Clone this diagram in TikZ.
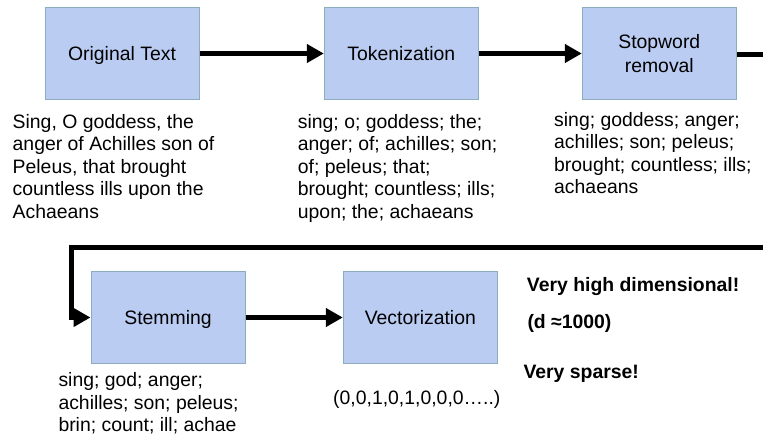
\documentclass[tikz,border=0pt]{standalone}
\usepackage{fontspec}
\setmainfont{Liberation Sans}
\usetikzlibrary{arrows.meta}
\definecolor{boxfill}{RGB}{187,204,242}
\definecolor{boxline}{RGB}{140,172,192}
\begin{document}
\begin{tikzpicture}[x=1pt,y=-1pt,
  stage/.style={draw=boxline, fill=boxfill, line width=1pt, minimum width=154pt,
    minimum height=92.5pt, inner sep=0pt, align=center,
    font=\fontsize{19.4}{23.3}\selectfont},
  oneline/.style={text height=14.1pt, text depth=0pt},
  desc/.style={anchor=north west, inner sep=0pt, align=left,
    font=\fontsize{19.4}{22.5}\selectfont},
  note/.style={anchor=base west, inner sep=0pt, font=\fontsize{19.4}{22.5}\selectfont\bfseries},
  flow/.style={line width=5pt, line join=miter, -{Triangle[length=17pt,width=18pt]}}]
\useasboundingbox (0,0) rectangle (763,437);
\clip (0,0) rectangle (763,437);

\node[stage,oneline] (orig) at (122,53.5) {Original Text};
\node[stage,oneline] (tok) at (401.3,53.5) {Tokenization};
\node[stage] (stop) at (659.3,53.5) {Stopword\\removal};
\node[stage,oneline] (stem) at (168,317.5) {Stemming};
\node[stage,oneline] (vec) at (420.3,317.5) {Vectorization};

\node[desc] (origd) at (12.5,114.2) {Sing, O goddess, the\\anger of Achilles son of\\Peleus, that brought\\countless ills upon the\\Achaeans};
\node[desc] (tokd) at (297.7,114.2) {sing; o; goddess; the;\\anger; of; achilles; son;\\of; peleus; that;\\brought; countless; ills;\\upon; the; achaeans};
\node[desc] (stopd) at (554,112.2) {sing; goddess; anger;\\achilles; son; peleus;\\brought; countless; ills;\\achaeans};
\node[desc] (stemd) at (58.3,372.6) {sing; god; anger;\\achilles; son; peleus;\\brin; count; ill; achae};
\node[anchor=base west, inner sep=0pt, font=\fontsize{19.4}{22.5}\selectfont] (vecd) at (333,404.3) {(0,0,1,0,1,0,0,0…..)};

\node[note] (n1) at (526.7,291.2) {Very high dimensional!};
\node[note] (n2) at (527.3,328.3) {(d ≈1000)};
\node[note] (n3) at (523.3,378.3) {Very sparse!};

\coordinate (offR) at (780,54);
\coordinate (turn) at (71,247.5);

\draw[flow] (orig) -- (tok);
\draw[flow] (tok) -- (stop);
\draw[flow] (stop.east |- offR) -- (offR) |- (turn) |- (stem.west);
\draw[flow] (stem) -- (vec);
\end{tikzpicture}
\end{document}
